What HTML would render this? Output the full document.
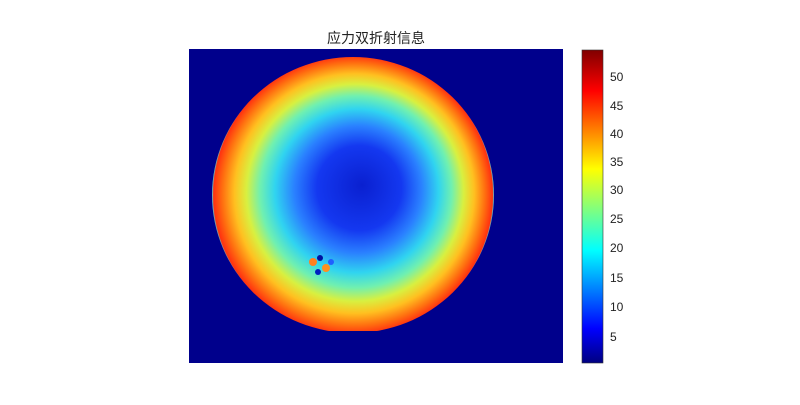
<!DOCTYPE html>
<html><head><meta charset="utf-8"><style>
body{margin:0;background:#fff;width:800px;height:400px;overflow:hidden;font-family:"Liberation Sans","Noto Sans CJK SC",sans-serif}
</style></head><body>
<svg width="800" height="400" xmlns="http://www.w3.org/2000/svg">
<defs>
<radialGradient id="rg" cx="353" cy="195" r="141" fx="362" fy="185" gradientUnits="userSpaceOnUse">
<stop offset="0" stop-color="#0a20d0"/>
<stop offset="0.3" stop-color="#1438f0"/>
<stop offset="0.45" stop-color="#2a80ff"/>
<stop offset="0.58" stop-color="#30d4f0"/>
<stop offset="0.68" stop-color="#70f0b0"/>
<stop offset="0.77" stop-color="#d8f040"/>
<stop offset="0.85" stop-color="#ffc020"/>
<stop offset="0.93" stop-color="#ff7010"/>
<stop offset="0.99" stop-color="#ff3010"/>
<stop offset="1" stop-color="#40e0f0"/>
</radialGradient>
<linearGradient id="jet" x1="0" y1="1" x2="0" y2="0">
<stop offset="0" stop-color="#000080"/>
<stop offset="0.11" stop-color="#0000ff"/>
<stop offset="0.36" stop-color="#00ffff"/>
<stop offset="0.62" stop-color="#ffff00"/>
<stop offset="0.87" stop-color="#ff0000"/>
<stop offset="1" stop-color="#800000"/>
</linearGradient>
<clipPath id="cp"><rect x="189" y="49" width="374" height="282"/></clipPath>
</defs>
<text x="376" y="43" font-size="14" text-anchor="middle" fill="#222">应力双折射信息</text>
<rect x="189" y="49" width="374" height="314" fill="#00008c"/>
<ellipse cx="353" cy="195" rx="141" ry="138" fill="url(#rg)" clip-path="url(#cp)"/>
<g>
<circle cx="313" cy="262" r="4" fill="#ff8020"/>
<circle cx="326" cy="268" r="4" fill="#ff9020"/>
<circle cx="320" cy="258" r="3" fill="#0010a0"/>
<circle cx="318" cy="272" r="3" fill="#0020c0"/>
<circle cx="331" cy="262" r="3" fill="#2060ff"/>
</g>
<rect x="582" y="50" width="21" height="313" fill="url(#jet)" stroke="#333" stroke-width="0.6"/>
<g font-size="12" fill="#222">
<text x="610" y="341">5</text>
<text x="610" y="311">10</text>
<text x="610" y="282">15</text>
<text x="610" y="252">20</text>
<text x="610" y="223">25</text>
<text x="610" y="194">30</text>
<text x="610" y="166">35</text>
<text x="610" y="138">40</text>
<text x="610" y="110">45</text>
<text x="610" y="81">50</text>
</g>
</svg>
</body></html>
